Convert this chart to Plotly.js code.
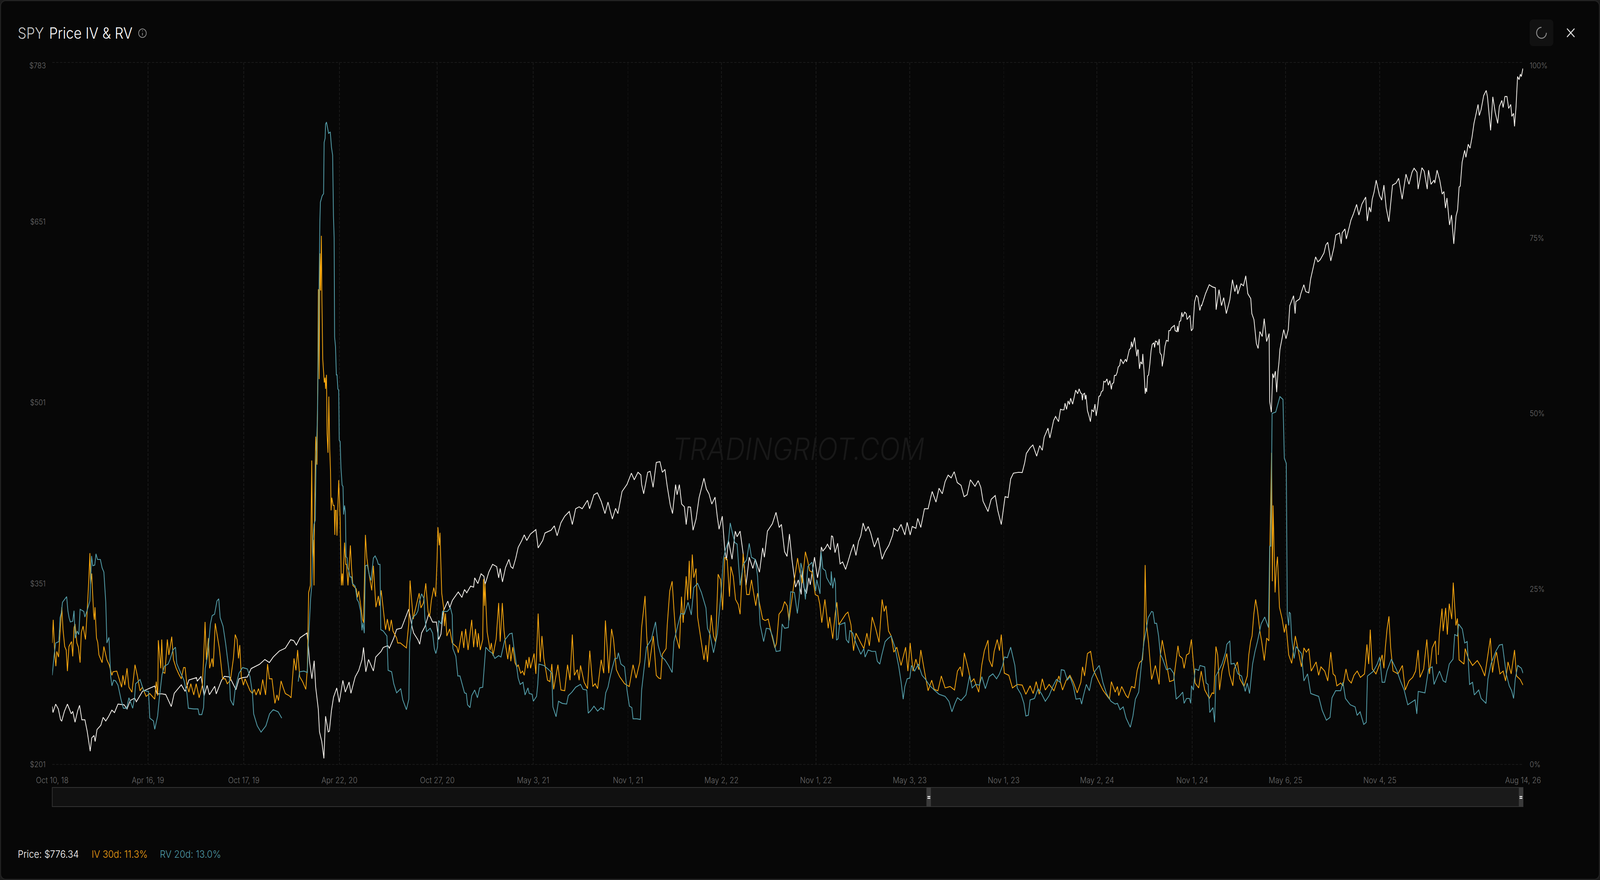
<!DOCTYPE html>
<html>
<head>
<meta charset="utf-8">
<script src="https://cdn.plot.ly/plotly-3.0.1.min.js"></script>
<style>
html,body{margin:0;padding:0;background:#1b1b1b;overflow:hidden}
#stage{position:absolute;left:0;top:0;width:4594px;height:2254px;transform-origin:0 0}
#card{position:absolute;left:0;top:0;width:4594px;height:2254px;box-sizing:border-box;background:#070707;border:3px solid #222;border-radius:16px}
#chart{position:absolute;left:0;top:0;width:4594px;height:2254px}
#icons{position:absolute;left:0;top:0;pointer-events:none}
</style>
</head>
<body>
<div id="stage">
<div id="card"></div>
<div id="chart"></div>
<svg id="icons" width="4594" height="2254" viewBox="0 0 4594 2254" fill="none">
  <circle cx="409" cy="85" r="11" stroke="#8a8a8a" stroke-width="2"/>
  <line x1="409" y1="84" x2="409" y2="91" stroke="#8a8a8a" stroke-width="2"/>
  <circle cx="409" cy="79" r="1.3" fill="#8a8a8a"/>
  <rect x="4392" y="50" width="68" height="68" rx="9" fill="#111"/>
  <path d="M4426 70 A14 14 0 1 0 4440 84" stroke="#8c8c8c" stroke-width="2.6"/>
  <path d="M4500 74 L4520 94 M4520 74 L4500 94" stroke="#dedede" stroke-width="2.6" stroke-linecap="round"/>
</svg>
</div>
<script>
// Trading-session number (0 = Oct 10, 18) and value pairs.
const tickSessions = [0,126.1,252.3,378.2,507.1,633.3,758.3,881.5,1005.9,1129.4,1253.2,1376.1,1501.4,1624.4,1748.6,1937.2];
const tickDates = ["Oct 10, 18","Apr 16, 19","Oct 17, 19","Apr 22, 20","Oct 27, 20","May 3, 21","Nov 1, 21","May 2, 22","Nov 1, 22","May 3, 23","Nov 1, 23","May 2, 24","Nov 1, 24","May 6, 25","Nov 4, 25","Aug 14, 26"];
const priceTicks = [201,351,501,651];
const priceTickText = ["$201","$351","$501","$651"];
const pctTicks = [0,25,50,75];
const pctTickText = ["0%","25%","50%","75%"];

const pricePoints = [[0,249],[1,244],[4.5,251],[8,247],[11,238],[12.5,237],[16,245],[20,251],[25,243],[27,245],[30,236],[33.5,245.5],[36,250],[39,238],[43,238],[46,228.6],[50,212],[52,223],[55,225],[56.5,220],[59,230],[64,233.5],[67,240],[70.5,237],[74,240.5],[78.5,246],[82,244],[86.6,251],[94.7,250.4],[98.5,247],[102.7,254],[108.5,256],[110.8,253],[118.8,261.6],[135,266],[138,259.5],[144.6,259.5],[149.4,259],[156.8,249],[160.7,260],[170,267],[175,261.6],[180,271],[190,273],[191,270],[196,274],[200,258],[204,266.5],[207,258.8],[214,265.8],[216,259.5],[223,270.7],[226.7,274],[233.7,273.5],[242,263],[246,272],[251,273],[257,273.5],[262,280.5],[273,284],[280,288],[286,285.5],[291,290],[299,295],[307,297.4],[314,304.4],[318,303.7],[321.6,300],[326.4,306],[335.5,310],[337,301.6],[339,286],[342,272],[345,287],[347,265],[350.4,247],[352,228],[355,220],[357.8,206],[360,241],[363.5,228],[365,228.6],[367.7,245.5],[370.5,256.7],[374.7,264.4],[378,252.5],[382.8,270.7],[386,261],[391,269.3],[393.4,260],[399,273.5],[403.7,279],[408,288],[410,298],[413,277.8],[416.6,288],[423,278.5],[426,290],[433,294.6],[436,298],[442,299.5],[444,297.4],[450,306],[453.6,313],[460,314],[469.5,329.7],[474,315],[476,310],[481.6,304.4],[484,300.7],[486.5,310],[491,315.4],[496,326],[501,319],[506,319],[509,304.6],[512,309],[515,328],[521,336.4],[523.6,331],[527,337],[534.8,344],[539.6,339.5],[543,346],[546,343.3],[551,348.8],[555,348],[556.4,355.7],[560.6,351],[564.8,359],[568.6,357],[570,350],[575,360.4],[580,366.9],[585.4,365],[588,355.7],[590,363.5],[593,352.3],[597,364.2],[601.5,371],[604,365],[606.7,363.5],[610.5,372],[613.7,381],[618.5,386.7],[621.7,391.3],[625,386.7],[629.8,392],[637,395.7],[640,380.5],[646,386.7],[649,392.9],[657,395.2],[661.3,398.8],[665,390.6],[670,401.4],[675,406.8],[681,410.7],[685,399.9],[689.4,413],[694,414.6],[698,413],[705,420],[707.7,413],[713.5,424.6],[718,426.2],[723,419.2],[728,409],[732,418.5],[737.7,404.5],[742,413.3],[745,409],[750.5,427.3],[757,433.2],[762.8,442.5],[766.6,437],[771.5,443.2],[775.3,441],[776.3,433.2],[779,425.4],[784.3,443.2],[787.5,444],[791.4,430.8],[795.6,451.4],[800.4,452],[803.6,443.2],[807,445.6],[810,431.6],[814,416.1],[817,409],[821,433],[823,424.6],[826,433],[829,416.9],[832.6,414.6],[835,399.9],[837.5,414.6],[840.7,414.3],[844,395.2],[848,404.5],[852,422.3],[858.4,438.3],[861.6,429.3],[865,425.4],[868.7,416.9],[873,422.6],[876,406],[878.3,396],[882.5,406.8],[885.8,379],[888,370.4],[890.6,386.7],[895.4,371.2],[899.6,394.4],[902,389.8],[906,394.4],[910,375.9],[913.8,349.5],[918,372.8],[922.8,363.5],[926,371.2],[931.5,360.4],[935.7,380.5],[938,372.8],[942,394.4],[948.5,400.6],[953.3,410],[957.5,397.5],[960.4,400],[964.6,377.4],[967.8,373.5],[971,392],[974.3,371],[979,348],[982.7,354],[986.5,342],[987.8,362],[990,348],[993.3,342.6],[996.5,355.7],[998.4,350],[1004,372.8],[1008,355.7],[1011,365.8],[1013,381.3],[1015,378],[1018.4,380.5],[1021,383.6],[1025,379],[1026.4,390.6],[1028,389.8],[1031,376.6],[1034.5,384.4],[1037.7,367.3],[1041,368.9],[1045,362.7],[1048,368.9],[1052,377.4],[1055.4,383.6],[1058.6,374.3],[1062,385.9],[1065,390.6],[1068,401.1],[1071.5,394.4],[1074.7,398.3],[1078,392.9],[1082.8,381.3],[1087.6,389],[1093,371.2],[1097,377.4],[1102,382.8],[1107,391.3],[1108.5,396.8],[1113.4,394.4],[1118,400],[1123,391.3],[1126,401.7],[1130,391.3],[1132.7,398.3],[1137.5,396.8],[1140,405],[1144,397.5],[1148.8,413],[1153.6,413],[1157,422.3],[1159,427.3],[1164,418.5],[1168,430],[1172.3,425.4],[1176,435.5],[1180,440.9],[1184,438.6],[1188,443.7],[1192,434.7],[1197,432.4],[1201,423],[1205,424.6],[1209.3,437],[1215.4,431.6],[1219.6,436.3],[1223,430.8],[1226,419.2],[1232.5,410.7],[1236.7,420.8],[1242,423.9],[1245.4,411.5],[1250,399.9],[1255,423],[1259,422.3],[1262.4,437.8],[1266,442.5],[1272.7,443.2],[1277.6,443],[1280.8,451],[1283,458.8],[1288,463.6],[1291.6,465.8],[1296.6,456.6],[1300.6,465.3],[1304,461.5],[1306.5,472.3],[1311.5,479.8],[1314,471.7],[1319,486.3],[1321.5,489.5],[1325.4,485.2],[1328,495.5],[1330,495],[1332.6,495],[1334,500.5],[1336,495.4],[1338,502.4],[1339.8,499.4],[1341.3,504.6],[1344,499.7],[1346.4,507.3],[1348,511.3],[1350.6,508.4],[1352.5,512.4],[1354.5,509],[1356,508.4],[1356.8,503],[1357.8,507.8],[1359.7,508.7],[1360.6,503.7],[1361.6,507.3],[1363.5,494.3],[1365.5,490],[1367.4,485.2],[1369.3,495.2],[1371.6,493.3],[1373.4,499.7],[1375,490],[1377,498],[1378.5,506],[1380.3,506.8],[1381.8,510],[1383.8,511],[1385,518.6],[1387,518],[1389.2,520.6],[1391,515.4],[1393,519.2],[1395,512],[1396,516.5],[1398,517.5],[1399,523.5],[1401,523.5],[1402.6,526],[1404,530.5],[1406,531.8],[1407.2,537],[1410.6,533.4],[1413.6,537],[1415,534.8],[1418.7,545],[1420.5,546],[1421.4,551.5],[1422.7,546.9],[1425.6,555],[1427,546.7],[1428.6,539.4],[1429.7,545],[1430.4,544.5],[1432,529],[1433.5,534.8],[1435.5,532.9],[1436.4,541.3],[1438,527.3],[1439.6,508.4],[1440.4,513],[1441.5,509.8],[1442.7,523],[1444,524],[1445.7,533],[1447.3,544],[1448.8,549.4],[1451,550.5],[1452,546.7],[1453,552],[1455,551.5],[1456.4,548.6],[1458,553.7],[1459,542.4],[1461,540.2],[1462,531],[1464,539],[1465.6,547.8],[1467.5,552.6],[1469.8,551.9],[1470.7,560.7],[1472.5,560.7],[1474,563],[1478,565],[1479,560.7],[1481.4,559.8],[1482,564.5],[1483,559.6],[1484.7,568.3],[1486.3,568.8],[1487.8,575.8],[1489,572],[1491.6,576],[1493.6,574.7],[1494.7,569.9],[1498.5,573.3],[1500.3,560.5],[1502.3,562.3],[1504.6,584.4],[1507,590],[1509,588.2],[1511.5,577.4],[1513.3,581.7],[1514,581.4],[1519,591.3],[1523.9,598.7],[1528,597],[1532,596.2],[1533,578],[1536.8,594.6],[1540,581.4],[1543,588],[1546.4,574.8],[1551,586.3],[1554.5,602.9],[1557.7,593],[1560,598.7],[1561.5,591],[1565.7,599.5],[1569,597.9],[1572,606.1],[1574.7,591.3],[1578.6,587.2],[1580,574.8],[1582.8,569.8],[1586,550],[1588.3,545.9],[1590.6,559.9],[1593.7,555.8],[1596.3,570.6],[1599.5,551.6],[1602.8,558.2],[1603.5,502],[1605.7,493],[1607.5,525],[1609,521.5],[1611,527],[1612.7,509.7],[1614.5,527],[1615.7,534],[1617,545],[1622,561.5],[1625,554],[1628,561.5],[1630,581.4],[1635,589.6],[1637,574.8],[1638,584.7],[1643,587],[1644.6,591.3],[1648.5,598.7],[1651,593],[1655,592],[1657.5,603.7],[1662,616.9],[1664,621.8],[1667,617.7],[1670,619.4],[1675,625],[1677.5,631.7],[1680,633.9],[1684,618.5],[1688,629.3],[1690.6,640],[1695.5,641.7],[1697.7,632.6],[1699,641.7],[1702.6,645],[1704.5,636.7],[1707.4,644],[1710.6,652.4],[1713.8,657.4],[1718,665.3],[1721,656.5],[1725,665.6],[1730,671.4],[1732,651.6],[1734.8,663],[1736.7,659],[1738.6,669.7],[1741,675.5],[1743.8,685.4],[1746,678.8],[1748,673],[1751,668.9],[1754,681.3],[1757,662.3],[1760.5,651],[1765.3,681.3],[1770,683],[1773.4,687],[1778,669.7],[1783,690.4],[1787,682],[1791,692],[1793.7,695.3],[1797.5,692],[1799,678],[1804,695.7],[1807,692.9],[1811,678],[1812.7,693.7],[1816,682],[1820,685.4],[1821,683],[1824,693.7],[1827.5,685.4],[1830.7,673.9],[1833,676],[1835,662.3],[1837,670.6],[1840.4,648.3],[1843,656.5],[1846,632.6],[1849,655.7],[1851,660.7],[1853,679.7],[1854.5,680.5],[1857,700.3],[1860.3,710.2],[1862,704.4],[1865,715.2],[1867.4,711.9],[1870,721],[1872.6,732.5],[1874.8,739],[1878,748.2],[1879.6,739],[1882,744],[1885.4,755.6],[1888.7,759.8],[1890.3,754.8],[1892.5,739],[1894.5,726.7],[1897.4,754.5],[1900.6,741.6],[1903.8,732.5],[1906,746.5],[1909.3,751.5],[1911,745.7],[1913.4,754.8],[1916,754.8],[1918.3,744.9],[1921,748.2],[1922.5,738.3],[1924.7,740.8],[1926,730],[1928,746.5],[1930,771.3],[1932,768.8],[1933.7,773.3],[1935,771.3],[1937,778],[1937.2,776.3]];

const ivPoints = [[0,17.3],[1.3,20.6],[3.5,15.4],[4.8,14],[6,16.1],[8.4,15.3],[10.3,18.8],[12.6,22.4],[14.2,19.2],[16.4,16.8],[18.4,16.3],[20,13.3],[22,16.8],[25.4,17.5],[27,15.4],[28.7,19.5],[30,20],[32.5,17.3],[34.4,16.7],[36.7,14.5],[38.3,18.8],[40.6,19.7],[43.8,17.8],[45.7,21.2],[48,26],[49.6,30.1],[50.5,25.7],[52,27.2],[54.4,21.6],[55.4,20.6],[56.3,22.4],[58.3,18],[59.9,17.4],[61.5,15.6],[65.7,14.5],[68,16.8],[72,14.9],[75,14.2],[78.6,12.7],[80,13.2],[85,13.3],[88,12.2],[91.4,11],[93,12.7],[95.6,11.3],[98.5,13.7],[101,11],[105,10.3],[109,14.2],[112,12.7],[115.6,10.5],[118.8,11],[123.6,9.7],[128.5,10.1],[135,9.3],[137,11.8],[139,9.8],[139.7,17.7],[141.3,15.9],[143,13.7],[144.2,17.8],[146,13.1],[148.4,13],[151.6,17.8],[153.6,15.6],[157.4,18.2],[159.7,14.9],[163.2,13.7],[167,12.8],[170,12.2],[173,13.8],[175,13.8],[177.4,11.3],[180,10.3],[182.5,11.5],[186.4,9.9],[189.6,11.5],[193.5,9.5],[197.7,11.3],[199.3,14.9],[201.3,20.3],[203,14.9],[205.7,18],[207.3,13.7],[210.6,15.1],[212,13.9],[214.7,20.1],[217,18.5],[220,16.6],[221.7,14.9],[224.4,12.2],[228,12.2],[230.5,11.5],[234.7,12],[238.6,15.1],[241,18.5],[243.4,17.8],[245.3,15.1],[247,17],[249,12.5],[251.8,11.3],[254,12.2],[256.6,11.5],[260.5,10.5],[263.7,10.1],[266,10.7],[268.5,9.9],[271.7,10.8],[274,9.9],[277.2,12.1],[281,9.9],[283.6,14.3],[286,12.2],[289.4,12.2],[293.3,8.7],[296,9.9],[298,9.1],[301.4,11.9],[304,11],[307,10.1],[312,9.8],[314.6,9.5],[318.4,15.1],[321,13.4],[323.2,16.3],[326,12.5],[329.7,11.8],[334,10.7],[336,13.7],[337.7,24.5],[340,25.5],[341.8,43.3],[342.8,29.4],[344,32],[344.8,25.5],[345.6,36.5],[347,46.7],[348.7,42.7],[350,58.2],[350.5,67.7],[351.6,54.9],[352.6,72.8],[353.5,67.5],[354.5,75.3],[355.2,66.2],[356.3,57.7],[358.3,54.4],[359.4,55.1],[360,53.5],[361.2,55.5],[362,47.1],[363.2,44.4],[364.3,52.4],[365.5,44.9],[366.5,41.8],[367.3,36.2],[368.2,38],[370,36.9],[371.3,36.9],[372.2,32.7],[373,36.2],[374,36.2],[375,32.6],[377.3,40.5],[379.2,35.1],[380.8,25.5],[382,27.2],[382.8,25.5],[385,31.6],[386.6,28.5],[387.6,28.5],[389.5,25.5],[392.7,31.2],[394.2,28],[396,25.5],[400.5,25],[402,23.8],[403.7,24.7],[408.6,20.7],[410,20.2],[412.5,32.7],[414.4,29.4],[416.6,27.6],[420.8,24.8],[423,28.3],[426.3,22.4],[429.6,24],[431,22.6],[433.3,24.8],[436,22.1],[439,19.2],[441.4,20.7],[444,19],[446.6,20.6],[448.8,19],[453.6,18],[455,17.3],[458.5,17.3],[461.7,17],[466.5,16.6],[469.7,20.2],[471.3,26.2],[473.6,23.1],[475.5,20.7],[477.8,21.9],[481.6,23.6],[483.3,24.4],[485.6,22.3],[488.8,23],[492,25.8],[495,21.8],[497,21],[499.4,23.4],[502.6,25.2],[505,23.9],[506.8,29],[508,33.8],[509.7,31.2],[510.7,33],[513,24.4],[515.5,22.3],[516.5,19.7],[518,21.5],[519.7,18.3],[523.5,19.3],[526.8,17.3],[533,16.7],[534.8,15.9],[538,18],[539.6,19],[542,16.6],[544.5,19.3],[547.7,16.3],[552.5,20.6],[555,16.7],[557.4,19.3],[560,16.7],[561.2,18.7],[563.8,16.3],[567,17.8],[568,26.4],[569.3,22.6],[570,25.8],[572.8,18.9],[576.7,16.3],[578.3,17.3],[580.5,15.5],[584.7,17.9],[588,23],[590,17.5],[592.8,23],[595,19.1],[597.6,16.7],[600,15],[602.4,17.1],[604,14.7],[606.6,16.7],[609.5,14.5],[612,13.9],[613.7,14.2],[617,13],[619.5,13.3],[621.7,12.7],[624.3,14.9],[626.3,13.7],[628,15.3],[630,13.7],[634.6,15.8],[637,12.9],[640,21.5],[642.7,14.6],[645,18.3],[647.5,15.1],[652.3,12],[655.5,11.8],[658,14.3],[660.4,10.7],[666,14.2],[670,10.6],[675,10.5],[678.7,14.2],[682,12],[685,18.5],[687.7,12.7],[691.6,13.5],[694,12],[695.8,14.1],[700.6,11.7],[705,10.8],[708,16.2],[712,11.1],[715,11.5],[718.3,10.8],[723,14.9],[726.4,13],[728.6,20.5],[733,13],[736.7,19.3],[739.3,17.8],[743,13.5],[747.3,12.5],[753.8,11.5],[760,11.1],[765,14.2],[769,12.3],[774,14.6],[776.3,19.5],[778.5,21.7],[780.8,24],[783,18.3],[786,13.8],[789,16.2],[791.7,18.3],[795.6,12.7],[798.8,12.3],[801.4,12.2],[803.6,15.7],[808.5,16.5],[810,19.8],[813.3,24.7],[816.5,26.1],[819,21.8],[821.4,18.3],[826,16.5],[828.8,23.9],[831,20.2],[835,26.8],[837,23.4],[839,29],[840.7,23.6],[843,29.9],[845,26.6],[848,27.9],[850,21],[853.6,18.3],[858.4,14.9],[861,17],[863,14.6],[868,21.3],[871,18.3],[873.8,17.4],[877,27.1],[880.3,26.3],[883,22],[885.8,29.5],[889,29.2],[892,23.9],[893.8,28.2],[897,26.8],[900,23.5],[903.5,22.8],[906,21.4],[910,30],[914.7,24.2],[918,24.2],[921,26.3],[926.6,22.6],[929,24.4],[931.8,22.8],[935.7,20.7],[939,20.5],[943,20.7],[947.9,18.3],[951.8,16.6],[954,17.3],[957.2,21.4],[961.4,22],[964.6,23.2],[968,22.6],[970.4,20.5],[974.3,23.6],[977.5,26.3],[981.7,29.4],[984.6,27.4],[986.5,26.8],[987.8,25.8],[992,30.3],[995,29],[997.5,27.6],[1000.7,27.4],[1005,24.2],[1008.7,24],[1011,22.8],[1013.6,20.2],[1017.7,23.5],[1022,19.4],[1024,21],[1028,17.9],[1031.3,21.5],[1033.5,23.1],[1036,19.9],[1041,20.7],[1045,21.4],[1048,21.7],[1052,19.9],[1055.4,16.2],[1058.6,18.7],[1065,17.3],[1069,16.5],[1073,18.7],[1076.3,16.9],[1080,21],[1084.4,19.4],[1089,17.4],[1093,23.5],[1095.7,21.8],[1098.2,22.6],[1101.5,19],[1105,18.3],[1108.5,16],[1112.4,16.7],[1118,14.1],[1124,16.7],[1127,13.3],[1130,17.3],[1133.7,13.3],[1137.5,15],[1141.4,13.5],[1144,16.3],[1148.8,13.3],[1153.6,10.5],[1158.4,12],[1161.7,10.7],[1166.5,10.5],[1171,12.6],[1176,10.9],[1182.6,11.1],[1188.4,10.6],[1192.3,13.3],[1196,13.9],[1198.7,12.5],[1201.3,15.9],[1206.7,13.5],[1210,11.7],[1214,12.2],[1220.3,10.3],[1224.4,14.2],[1227.7,16.2],[1232.5,17.7],[1234,14.9],[1238,13.9],[1240.6,16.1],[1244.7,17.8],[1247.6,16.2],[1250,18.5],[1254,13],[1259.9,12.7],[1264.7,10.9],[1271,11.4],[1277.6,11.3],[1282.4,10],[1288,11.2],[1292,10.1],[1296,11.8],[1300,10],[1304,12.2],[1308,10.6],[1313,11.4],[1319.4,10.5],[1325.9,12.6],[1330.7,10.6],[1335.5,12],[1340.4,12.7],[1345,11.7],[1350,10.2],[1354.8,11.7],[1357,13.9],[1359.7,12.6],[1363.5,15.8],[1367.7,16.1],[1371.6,13.4],[1377.4,12],[1383.8,10.6],[1387,10.1],[1392.5,9.3],[1395,11.8],[1400,10.3],[1403,11.1],[1404.7,9.8],[1408.6,11.1],[1414.4,9.8],[1417,9.5],[1421.5,11.1],[1425.7,10.9],[1429,13.4],[1432,14.5],[1436,14.9],[1438,18.3],[1439.5,28.4],[1441,20.3],[1444,17.3],[1448,12.1],[1453,14.1],[1457.9,11.4],[1459.5,15.5],[1462,17.7],[1466,15.4],[1471.7,11.8],[1477,12],[1482.7,16.9],[1484.6,15.5],[1488.5,15.1],[1490.8,13.7],[1494,15.6],[1497.2,15.8],[1500.4,17.8],[1503.7,13.9],[1505.3,11.6],[1510,10.9],[1513.3,13.3],[1518,10.6],[1524,9.4],[1527.8,10.2],[1530,10.1],[1532.7,16.8],[1535,15.6],[1537.5,10.6],[1540.7,13.3],[1544.6,14.8],[1547,15.8],[1550.4,12.9],[1555,11.2],[1556.8,13.6],[1561,14.6],[1564.2,12.2],[1569.7,11.1],[1574,12.6],[1576,15.6],[1578.4,17.5],[1580.3,18.3],[1582.6,21.4],[1585,23.5],[1587.4,22],[1590.6,19],[1593,17.5],[1596.4,14.8],[1599.6,18],[1602.5,17.6],[1604,32.5],[1606,44.4],[1607,26.1],[1608,36.9],[1610.6,24.5],[1612.2,28],[1613.8,29.6],[1616.4,22.4],[1620,20.7],[1622.8,18.8],[1625,20],[1628.6,15.6],[1632.5,14.4],[1637.3,18.3],[1640.5,16.6],[1645.3,13.9],[1648.6,16.6],[1651.8,16],[1655,16.5],[1658.2,13.3],[1664.7,14.6],[1668,12.7],[1671,13.9],[1676,13.3],[1680,11.9],[1684,16],[1687,12.9],[1689.8,12.6],[1692,11.2],[1697,11.6],[1700,11.2],[1704,13.6],[1707,12.1],[1711,11.6],[1714.6,12.7],[1718.8,13.3],[1723,12.4],[1728.4,12.9],[1731.6,17.1],[1733.9,14.3],[1736,19.2],[1738.7,13.6],[1743.5,12.9],[1748.4,14.3],[1751.6,15.6],[1754,13.7],[1755.8,16.6],[1758,19.2],[1760.6,21.1],[1762.9,16.6],[1766,13.3],[1772.5,12.9],[1778.3,14.1],[1782,10.6],[1787,11.9],[1791.8,12.4],[1795.7,13.3],[1799,16.3],[1801.5,12.4],[1806.3,13.6],[1810.5,17.8],[1814,12.9],[1817.6,16.6],[1821.8,17.6],[1823.4,14.3],[1824.5,null],[1825.6,15.6],[1827,18.5],[1830.5,22.2],[1832,19],[1835.3,22.3],[1837.5,18.5],[1840,22.9],[1843.3,20.7],[1845.3,25.9],[1848.8,19.8],[1850.8,20.8],[1853,14.9],[1859.4,14.3],[1861,16.5],[1865.2,15.1],[1870.7,14.1],[1877,14.8],[1882,13.9],[1886.8,12.6],[1891.6,16],[1894.2,18],[1897,13.1],[1899.7,15],[1902.3,16],[1906.8,12.9],[1911,13.3],[1914.2,11.9],[1917.4,14.6],[1921.6,12.9],[1926,16.3],[1928.7,12.6],[1933.5,12.1],[1937.2,11.3]];

const rvPoints = [[0,12.7],[2.3,15.4],[4.5,17.3],[8.7,17.5],[10.3,20.9],[12,21.6],[13.5,23.1],[17.4,23.7],[19,23.9],[20.6,21.9],[22.2,20.9],[23.8,20.3],[27,20.4],[28.7,21.9],[30.3,18],[32.8,19],[35,18.5],[36.7,22.1],[41.5,21.8],[43,21],[46.4,22.1],[49.6,23.3],[51.8,29.7],[53.4,28.3],[56,28.4],[57.6,30],[59.6,29.2],[63.4,29.2],[65.7,28],[68,27.4],[70.5,23.1],[72,17.3],[74.7,18.1],[77,12.5],[78.6,11.2],[80.8,12],[83.4,11.9],[86.6,11.3],[88.9,10.1],[90.5,9.3],[93.7,8],[98,8],[101,9.5],[106,8],[108.5,9.6],[109.8,11.5],[113,11.8],[115.6,12.1],[120.4,10.5],[126.8,10.4],[128.5,6.6],[133.3,6.2],[135,5],[138.8,6.9],[140.7,9.1],[144.6,12.8],[147.8,14],[152.6,14.3],[155,14.9],[159,16.3],[162.3,16.7],[164,14.4],[169.3,13],[173.5,12],[177.4,10.1],[179.3,8],[186.4,7.9],[192,7.9],[193.5,7.1],[197,7.1],[199.3,8.1],[201.5,13.7],[204.8,15.6],[208.3,20],[210.6,21.2],[213.8,21.4],[217,23.3],[219.3,23.6],[221.2,20.9],[225,19.7],[228.3,17.3],[233,13.2],[234.7,9.2],[238.6,8.4],[241,10.8],[246,13],[250.8,13.8],[257,13.6],[260.5,12.5],[263.7,10.1],[265.3,7.2],[270,5.5],[275,4.6],[281.4,5.5],[286.2,7.2],[291,7.8],[297.5,7.5],[302.3,6.6],[310,null],[324,11.8],[325.8,13.2],[331.5,13.3],[336,13.1],[337,16.6],[338.4,19.7],[340.3,23.6],[341.8,25.5],[343.3,31.6],[344.8,34.2],[346.5,34.8],[347.4,42.7],[348.7,48.4],[349.4,50],[350.2,57.3],[351.7,69.7],[352.5,77.3],[353.2,80.1],[355.5,81],[357.4,81.3],[358.1,88.6],[359.4,89.2],[360,91.2],[361.2,91.5],[362.4,90.8],[364,89.9],[366.2,90.1],[367.8,87.9],[369.3,86.8],[370.4,78.1],[371.3,75],[371.9,60.9],[373.1,59.5],[374.2,55.5],[375.1,55.5],[376.2,53.5],[377.3,53.3],[378,46.2],[379.2,46],[380.3,42.2],[381.8,39.8],[383,39.6],[383.8,35.6],[385,36.9],[386.1,36],[387,29.6],[388.4,29.4],[389.2,28],[390.7,27.6],[392.2,26.7],[394.2,26.7],[395.3,25.8],[399,25.4],[401.5,23.5],[403.7,23.1],[406,21.9],[408,19.1],[409.2,20.2],[411,18.7],[412.4,28.3],[415,28.4],[417.6,27],[419.8,26.2],[423,29.4],[425.3,29.7],[427.9,29.1],[429.5,28.5],[431.7,28.5],[432.7,19.2],[436,19],[440.8,18.3],[442.4,13.4],[447,13.2],[449.8,11.5],[453.6,10.2],[459,10.8],[461.7,9.2],[466.5,7.8],[469.7,9.3],[470.7,17.3],[474.5,20.9],[479.4,21.4],[481.7,21.9],[483.3,23.1],[486.5,24.3],[489.7,23.6],[490.7,21],[493,18.9],[497.8,19.4],[501,18.7],[503.3,16.5],[505.2,15.8],[507.4,16.7],[509,20.5],[512.3,20],[514,21.8],[520.3,21.8],[524.5,22.3],[526.8,21.3],[527.7,16.5],[531.6,15.4],[534.2,12.6],[537,12.6],[540.3,11.3],[543,10.2],[545.4,10.1],[547,8.5],[550.3,8.1],[552.5,9.8],[556.4,10.6],[560,9.5],[563,10.9],[567,11],[569.3,14.3],[571,16.7],[575,16.2],[580,15.8],[583,15.1],[588,15.5],[591,15.3],[596,17.7],[602.4,18.6],[605.7,18.7],[608,16.7],[610.5,14.9],[613.7,12.3],[616.3,11.4],[620,11.7],[622.7,9.9],[626.6,10.9],[628.2,10.1],[632,10],[633.7,9],[637.9,9.7],[639.5,11.4],[641,14.3],[647.5,14.1],[654,13.5],[658,13],[659.4,8.2],[663.6,6.8],[666.8,9],[671.7,8.7],[677.5,8.6],[679.7,9.8],[684.5,10.3],[689.4,11],[695.8,11.4],[699,10.7],[704,10.6],[706,7.3],[710.3,7.8],[713.5,8.3],[718.3,7.6],[723,8.1],[726.4,7.8],[729,10.2],[732,11],[734.4,12.3],[737.7,13.8],[741,15.1],[744,15.1],[745.7,15.9],[749,14.3],[753.8,13.9],[757,10.6],[760.2,8.3],[763.4,8.1],[765,6.5],[770,6.5],[774.7,6.4],[776.3,10.6],[779.5,13.5],[782.7,16.7],[789,17.8],[792.4,19.4],[794.6,20.3],[798,17],[802,15.4],[807,14.9],[811.7,14.1],[816.5,13.1],[818.8,17.5],[823,19.4],[827.8,21.5],[832.6,21.4],[837.5,23.1],[841.7,21.3],[845,25.2],[850,25.8],[855,24.5],[861,22.3],[863,19.4],[866.4,18.5],[871,15.9],[876,18.6],[881,24.5],[884,29.2],[886.7,30.6],[890.6,31.8],[893,34.4],[895.4,33.2],[899,31.6],[902,31.4],[906,25.5],[910,28.4],[914.7,29.2],[918,31.5],[921,29.5],[926,29.2],[929,26.8],[932.4,19.9],[937,17.5],[940.5,19.4],[945,19.3],[948.6,18.3],[953.4,16.1],[958.8,16.2],[961.4,20],[964.6,19.4],[969.5,19.5],[972.7,24.6],[977.5,24.5],[981.4,21.5],[984,23.9],[986,28.7],[987.8,27.9],[992,23.5],[995.2,28.2],[1000.7,28.8],[1005.5,24.7],[1007,26.3],[1011.3,24.3],[1012.6,30.3],[1015,27.9],[1018.4,27.6],[1020,26.6],[1025.5,25.5],[1026,27.5],[1028,25.1],[1030.3,26.6],[1031.6,25.8],[1033,17.7],[1035,17.9],[1037,19.9],[1044,20.2],[1045.8,17.8],[1049,17.3],[1050.6,19.1],[1054.5,18.7],[1058.6,17.3],[1065,15.7],[1069,16.5],[1070.6,15.3],[1074.7,16.3],[1079.6,16.1],[1084.4,16.1],[1086.7,14.7],[1090,14.3],[1092.4,15.5],[1097,17.5],[1100.5,17.9],[1105,18.3],[1110,16.7],[1115,13.9],[1118,11.8],[1120.8,9.3],[1123,11.1],[1126,12.2],[1129.5,12.3],[1131.7,14.1],[1135.9,13.3],[1140.7,14.3],[1145.6,12.7],[1150.4,12.1],[1155.2,11.3],[1161.7,10.6],[1168,10],[1176,9.7],[1181,9],[1185,7.5],[1189,8.7],[1192.3,9.5],[1197,9.1],[1203.5,9.9],[1208.4,12.7],[1211.6,10.9],[1216.4,11.4],[1221.2,11.3],[1224.4,12.5],[1229,10.8],[1234,12.5],[1238.9,12.9],[1243.8,12.2],[1247.6,12.9],[1251.8,14.1],[1254,15.3],[1258,15.2],[1262.4,16.7],[1267.9,14.1],[1271,10.9],[1276,10],[1279.8,8.7],[1282.4,6.9],[1285.6,7],[1288,9.2],[1293.7,9.4],[1298.5,10.8],[1303.3,10],[1308,9],[1313,9.8],[1317.8,11.1],[1322.6,12.1],[1327.5,11.7],[1329,13.5],[1333,13.4],[1337,12],[1340.4,12.5],[1345,11.1],[1348.4,9.3],[1353.9,9.4],[1355.8,8.6],[1358,9.7],[1362,11.4],[1366,10.5],[1369.3,12.3],[1374,13.4],[1379,14.1],[1383.8,11.7],[1388.6,10.1],[1394.4,9],[1400,8.6],[1403,8.7],[1406.4,7.8],[1410.6,8.2],[1414.4,6.6],[1420,5.3],[1423.4,6.9],[1426.6,9.3],[1431,10.3],[1434.4,14.1],[1438,17.5],[1440.8,19.1],[1443.4,20.9],[1448,21.8],[1449.8,21.7],[1452,20.1],[1454.6,20.1],[1457.2,18.3],[1459.5,15.7],[1462.7,15],[1467.5,13.5],[1472.4,13.7],[1477,13],[1480.4,9.3],[1485.2,9.8],[1489,10.3],[1490.8,8.7],[1494,9.4],[1497.9,9.4],[1499.5,8.7],[1500.5,11.2],[1503,10.6],[1505.3,13.6],[1510,13.4],[1511.7,14.1],[1518,13.9],[1519.8,11.6],[1522.4,11.4],[1524.6,7.4],[1528.8,8.1],[1531,6],[1532.7,12.6],[1537.5,13.6],[1540.7,14.3],[1545.5,16],[1547,17.1],[1551,17.6],[1552.6,14.3],[1556.8,14.4],[1561.6,12.9],[1566.5,12.6],[1571.3,10.4],[1574,11.6],[1577,10.1],[1581,14.3],[1584,16],[1587.4,17.5],[1592.2,20],[1597,21],[1601.9,19.5],[1603.5,31.1],[1605,31.1],[1606.7,50],[1611.5,50.2],[1617,52.4],[1621,52],[1622.8,43.6],[1625.4,42.9],[1626.7,21.3],[1628.6,19.8],[1629.2,21.7],[1630.8,21.5],[1632.5,18],[1635.7,15.1],[1638.3,16.8],[1645.3,15.8],[1648.6,11.9],[1653.4,12.9],[1657.6,10.1],[1668,9.7],[1672.7,7.7],[1678.2,6.3],[1683,6.7],[1685.6,9.5],[1690.4,10.5],[1697,10.5],[1700,11.7],[1703.3,9.4],[1709.7,8.5],[1716,8.2],[1718.7,7],[1722.6,7.5],[1727.4,5.7],[1730.7,6],[1732.3,12.6],[1740.3,13.3],[1745.2,14.3],[1748.4,15.3],[1751.6,11.7],[1755,11.7],[1758,13.3],[1763.8,15],[1770.9,13.4],[1775.7,11.9],[1780.6,10.6],[1785.4,8.5],[1795,9.2],[1797.3,7.2],[1799.2,10.4],[1808,10.2],[1812.8,13.6],[1817.6,13.9],[1820,11.4],[1827.2,13.3],[1832,11.9],[1835.3,11.7],[1840,14.3],[1845,15],[1847.2,18.5],[1850.8,18.3],[1852.4,20],[1857.2,19.3],[1860.4,17.3],[1863.6,17.5],[1866.8,11.4],[1870.7,11.7],[1873,9.9],[1878.8,10.6],[1882,9.4],[1888.4,8.7],[1891,12.2],[1894.9,14.3],[1897.4,15],[1901.3,16.1],[1906,17],[1910,17.1],[1915.1,12.9],[1919,11.2],[1922.2,10.5],[1924.8,9.4],[1927,12.2],[1930.3,14.1],[1935,13.7],[1937.2,13]];

const W = 4594, H = 2254;
const plot = {l:150, r:4373, t:160, b:1958};
const fx = x => (x - plot.l) / (plot.r - plot.l);
const fy = y => (plot.b - y) / (plot.b - plot.t);
const FONT = 'Inter, "Noto Sans", sans-serif';
const labelGrey = '#6a6a6a';

function rect(x0, y0, x1, y1, fill, line) {
  return {type:'rect', xref:'paper', yref:'paper', layer:'below',
    x0:fx(x0), x1:fx(x1), y0:fy(y0), y1:fy(y1), fillcolor:fill,
    line: line ? {color:line, width:2} : {width:0}};
}
function note(text, x, y, size, color, anchor, extra) {
  return Object.assign({text, xref:'paper', yref:'paper', x:fx(x), y:fy(y),
    xanchor:anchor || 'left', yanchor:'middle', showarrow:false,
    font:{family:FONT, size, color, weight:300}}, extra || {});
}
const dash = {color:'#191919', width:2, dash:'7px,4px'};
const xTickFont = {family:FONT, size:21, color:labelGrey, weight:300};
const yTickFont = {family:FONT, size:20, color:labelGrey, weight:300};

const traces = [
  {name:'Price', yaxis:'y', x:pricePoints.map(p=>p[0]), y:pricePoints.map(p=>p[1]), mode:'lines', line:{color:'#f4f1ec', width:2.2}},
  {name:'IV 30d', yaxis:'y2', x:ivPoints.map(p=>p[0]), y:ivPoints.map(p=>p[1]), mode:'lines', line:{color:'#f7a70f', width:2.2}},
  {name:'RV 20d', yaxis:'y2', x:rvPoints.map(p=>p[0]), y:rvPoints.map(p=>p[1]), mode:'lines', line:{color:'#55a0ac', width:2.2}}
];

const layout = {
  width:W, height:H, showlegend:false,
  paper_bgcolor:'rgba(0,0,0,0)', plot_bgcolor:'rgba(0,0,0,0)',
  margin:{l:plot.l, r:W-plot.r, t:plot.t, b:H-plot.b, pad:0},
  font:{family:FONT, color:labelGrey, size:18},
  hovermode:false,
  xaxis:{type:'linear', range:[0,1937.2], tickmode:'array', tickvals:tickSessions, ticktext:tickDates,
    showgrid:true, gridcolor:dash.color, gridwidth:dash.width, griddash:dash.dash, zeroline:false, showline:false,
    ticks:'outside', ticklen:22, tickcolor:'rgba(0,0,0,0)', tickfont:xTickFont},
  yaxis:{range:[201,783], tickmode:'array', tickvals:priceTicks, ticktext:priceTickText,
    showgrid:false, zeroline:false, showline:false,
    ticks:'outside', ticklen:14, tickcolor:'rgba(0,0,0,0)', tickfont:yTickFont},
  yaxis2:{range:[0,100], overlaying:'y', side:'right', tickmode:'array', tickvals:pctTicks, ticktext:pctTickText,
    showgrid:false, zeroline:false, showline:false,
    ticks:'outside', ticklen:14, tickcolor:'rgba(0,0,0,0)', tickfont:yTickFont},
  shapes:[
    {type:'line', xref:'paper', yref:'paper', x0:0, x1:1, y0:0, y1:0, layer:'below', line:dash},
    {type:'line', xref:'paper', yref:'paper', x0:0, x1:1, y0:1, y1:1, layer:'below', line:dash},
    rect(150,2017,2661,2066,'#111111','#333333'),
    rect(2661,2017,4373,2066,'#1a1a1a','#333333'),
    rect(2661,2017,2673,2066,'#3a3a3a'),
    rect(4361,2017,4373,2066,'#3a3a3a'),
    rect(2663,2039,2671,2041.5,'#ffffff'),
    rect(2663,2043.5,2671,2046,'#ffffff'),
    rect(4363,2039,4371,2041.5,'#ffffff'),
    rect(4363,2043.5,4371,2046,'#ffffff')
  ],
  annotations:[
    note('SPY', 49, 85, 39, '#c9c9c9'),
    note('Price IV &amp; RV', 139, 85, 39.5, '#ffffff'),
    note('$783', 134, 168, 20, labelGrey, 'right'),
    note('100%', 4390, 168, 20, labelGrey, 'left'),
    note('TRADINGRIOT.COM', 2292, 1149, 78, '#181818', 'center', {font:{family:FONT, size:78, color:'#181818', style:'italic', weight:300}}),
    note('Price: $776.34', 49, 2187, 26, '#ffffff'),
    note('IV 30d: 11.3%', 261, 2187, 26, '#f0a015'),
    note('RV 20d: 13.0%', 457, 2187, 26, '#4f9aa6')
  ]
};

Plotly.newPlot('chart', traces, layout, {displayModeBar:false, staticPlot:true}).then(() => {
  // The browser window can be narrower than the reference: fit the whole stage to it.
  const sx = Math.min(1, window.innerWidth / W);
  document.getElementById('stage').style.transform = 'scale(' + sx + ',1)';
});
</script>
</body>
</html>
